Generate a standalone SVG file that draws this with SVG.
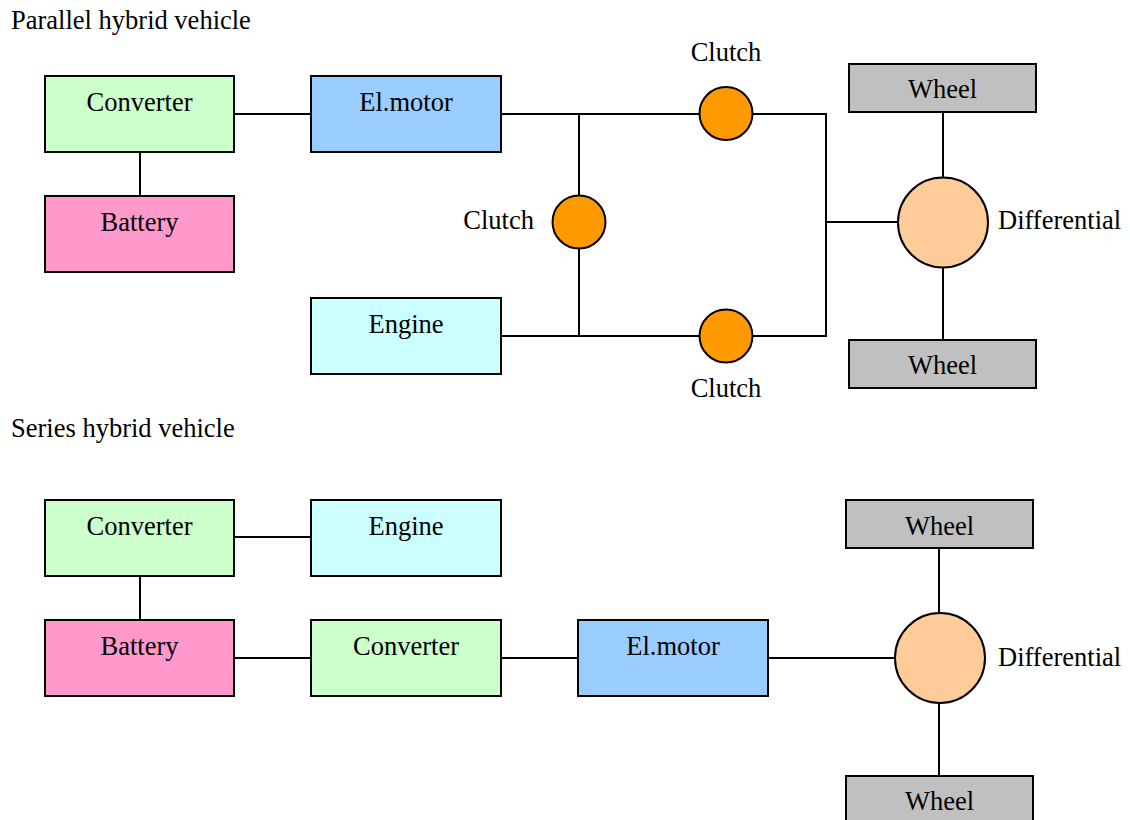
<svg xmlns="http://www.w3.org/2000/svg" width="1130" height="820" viewBox="0 0 1130 820">
<style>
text{font-family:"Liberation Serif","Times New Roman",serif;font-size:26.5px;fill:#000}
.c{text-anchor:middle}
.b{stroke:#000;stroke-width:2}
.ln{stroke:#000;stroke-width:2;fill:none}
.conv{fill:#CCFFCC}.bat{fill:#FF99CC}.mot{fill:#99CCFF}.eng{fill:#CCFFFF}.whl{fill:#C0C0C0}.clu{fill:#FF9900}.dif{fill:#FFCC99}
</style>
<rect width="1130" height="820" fill="#fff"/>
<text x="11" y="29">Parallel hybrid vehicle</text>
<text x="11" y="437">Series hybrid vehicle</text>
<g id="connectors">
<path class="ln" d="M234 114H311"/>
<path class="ln" d="M140 152V196"/>
<path class="ln" d="M501 114H826V336H501"/>
<path class="ln" d="M579 114V336"/>
<path class="ln" d="M826 222H900"/>
<path class="ln" d="M943 112V178"/>
<path class="ln" d="M943 267V340"/>
<path class="ln" d="M234 537H311"/>
<path class="ln" d="M140 576V620"/>
<path class="ln" d="M234 658H311"/>
<path class="ln" d="M501 658H578"/>
<path class="ln" d="M768 658H895"/>
<path class="ln" d="M939 548V613"/>
<path class="ln" d="M939 703V776"/>
</g>
<g id="p_converter"><rect class="b conv" x="45" y="76" width="189" height="76"/><text class="c" x="139.5" y="111">Converter</text></g>
<g id="p_battery"><rect class="b bat" x="45" y="196" width="189" height="76"/><text class="c" x="139.5" y="231">Battery</text></g>
<g id="p_motor"><rect class="b mot" x="311" y="76" width="190" height="76"/><text class="c" x="406" y="111">El.motor</text></g>
<g id="p_engine"><rect class="b eng" x="311" y="298" width="190" height="76"/><text class="c" x="406" y="333">Engine</text></g>
<g id="p_clutch_top"><circle class="b clu" cx="726" cy="113.5" r="26.5"/><text class="c" x="726" y="61">Clutch</text></g>
<g id="p_clutch_mid"><circle class="b clu" cx="579" cy="222" r="26.5"/><text x="534" y="229" text-anchor="end">Clutch</text></g>
<g id="p_clutch_bot"><circle class="b clu" cx="726" cy="336" r="26.5"/><text class="c" x="726" y="397">Clutch</text></g>
<g id="p_diff"><circle class="b dif" cx="943" cy="222.5" r="45"/><text x="998" y="229">Differential</text></g>
<g id="p_wheel_top"><rect class="b whl" x="849" y="64" width="187" height="48"/><text class="c" x="942.5" y="98">Wheel</text></g>
<g id="p_wheel_bot"><rect class="b whl" x="849" y="340" width="187" height="48"/><text class="c" x="942.5" y="374">Wheel</text></g>
<g id="s_converter1"><rect class="b conv" x="45" y="500" width="189" height="76"/><text class="c" x="139.5" y="535">Converter</text></g>
<g id="s_engine"><rect class="b eng" x="311" y="500" width="190" height="76"/><text class="c" x="406" y="535">Engine</text></g>
<g id="s_battery"><rect class="b bat" x="45" y="620" width="189" height="76"/><text class="c" x="139.5" y="655">Battery</text></g>
<g id="s_converter2"><rect class="b conv" x="311" y="620" width="190" height="76"/><text class="c" x="406" y="655">Converter</text></g>
<g id="s_motor"><rect class="b mot" x="578" y="620" width="190" height="76"/><text class="c" x="673" y="655">El.motor</text></g>
<g id="s_diff"><circle class="b dif" cx="940" cy="658" r="45"/><text x="998" y="666">Differential</text></g>
<g id="s_wheel_top"><rect class="b whl" x="846" y="500" width="187" height="48"/><text class="c" x="939.5" y="535">Wheel</text></g>
<g id="s_wheel_bot"><rect class="b whl" x="846" y="776" width="187" height="50"/><text class="c" x="939.5" y="810">Wheel</text></g>
</svg>
